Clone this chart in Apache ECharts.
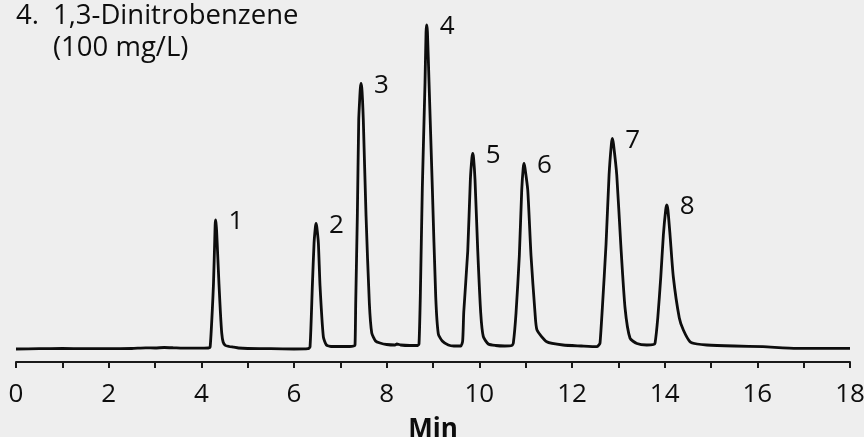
<!DOCTYPE html>
<html>
<head>
<meta charset="utf-8">
<title>1,3-Dinitrobenzene chromatogram</title>
<script src="https://cdn.jsdelivr.net/npm/echarts@6/dist/echarts.min.js"></script>
<style>
  html, body { margin: 0; padding: 0; background: #eeeeee; }
  #chart { width: 864px; height: 437px; }
</style>
</head>
<body>
<div id="chart"></div>
<script>
// trace: retention time (min) and detector signal
const traceTime = [
  0, 0.5, 1.0, 1.5, 2.0, 2.5, 2.8, 3.0, 3.2, 3.4, 3.6, 3.9, 4.15,
  4.19, 4.237, 4.262, 4.29, 4.298, 4.306, 4.316, 4.33, 4.355, 4.381, 4.41, 4.44, 4.47, 4.52, 4.6, 4.7, 4.8, 5.0, 5.5, 6.0, 6.3,
  6.346, 6.396, 6.433, 6.462, 6.476, 6.492, 6.526, 6.562, 6.634, 6.70, 6.80, 7.0, 7.2, 7.29,
  7.317, 7.332, 7.367, 7.397, 7.418, 7.432, 7.447, 7.463, 7.478, 7.496, 7.555, 7.626, 7.678, 7.76, 7.857, 8.0, 8.18, 8.22, 8.3, 8.5, 8.67,
  8.698, 8.726, 8.770, 8.828, 8.850, 8.864, 8.880, 8.914, 8.985, 9.059, 9.115, 9.2, 9.331, 9.45, 9.60,
  9.64, 9.664, 9.750, 9.806, 9.840, 9.858, 9.876, 9.907, 9.966, 10.030, 10.086, 10.194, 10.35, 10.55, 10.70,
  10.734, 10.792, 10.863, 10.915, 10.947, 10.965, 10.985, 11.045, 11.116, 11.202, 11.245, 11.455, 11.806, 12.2, 12.534, 12.58,
  12.605, 12.655, 12.735, 12.800, 12.850, 12.871, 12.895, 12.966, 13.052, 13.145, 13.253, 13.40, 13.613, 13.76,
  13.793, 13.851, 13.916, 13.972, 14.022, 14.045, 14.070, 14.116, 14.187, 14.316, 14.403, 14.547, 14.7, 14.908, 15.5, 16.123, 16.85, 17.5, 18.0
];
const traceSignal = [
  0, 0.3, 0.5, 0.3, 0.3, 0.5, 1.2, 1.0, 1.5, 1.2, 0.8, 0.8, 1,
  2, 39, 65, 110, 124, 129, 126, 118, 92, 65, 38, 16, 7, 3.5, 2.5, 1.8, 1, 0.5, 0.3, 0, 0.3,
  2, 63, 106, 122, 125.7, 122, 106, 63, 12, 4, 2.5, 2.5, 2.5, 3,
  4, 46, 133, 229, 250, 261, 265.7, 261, 250, 229, 133, 46, 16, 8, 6, 4.5, 4, 5, 4, 3.5, 3.5,
  5, 52, 162, 267, 317, 324, 317, 267, 162, 52, 15, 8, 4, 3, 3,
  8, 37, 98, 169, 191, 195.7, 191, 169, 98, 36, 12.3, 5, 3.5, 3, 3.5,
  6, 36, 93, 159, 181, 185.7, 181, 159, 93, 36, 19, 7.3, 4, 3, 2.3, 4,
  6, 41, 105, 174, 205, 210.7, 205, 174, 105, 41, 10.7, 5.5, 4, 4.5,
  6, 31, 72, 114, 139, 144, 139, 114, 72, 31, 19, 7.3, 5, 4, 3, 2.3, 0.7, 0.7, 0.7
];

// peak numbers and their apex positions
const peakNames = ["1", "2", "3", "4", "5", "6", "7", "8"];
const peakTimes = [4.306, 6.476, 7.447, 8.864, 9.858, 10.965, 12.871, 14.045];
const peakHeights = [129, 125.7, 265.7, 324, 195.7, 185.7, 210.7, 144];

const titleNumber = "4.";
const titleLines = ["1,3-Dinitrobenzene", "(100 mg/L)"];

const FONT = "'Open Sans', 'Noto Sans', sans-serif";
const INK = "#0d0d0d";

let myChart = echarts.init(document.getElementById("chart"));

let trace = traceTime.map((t, i) => [t, traceSignal[i]]);
let peaks = peakTimes.map((t, i) => ({ value: [t, peakHeights[i]], name: peakNames[i] }));

myChart.setOption({
  backgroundColor: "#eeeeee",
  animation: false,
  graphic: [
    {
      type: "text",
      left: 16,
      top: 2,
      style: { text: titleNumber, font: "27.5px " + FONT, fill: INK }
    },
    {
      type: "text",
      left: 53,
      top: 2,
      style: { text: titleLines[0], font: "27.5px " + FONT, fill: INK }
    },
    {
      type: "text",
      left: 53,
      top: 34,
      style: { text: titleLines[1], font: "27.5px " + FONT, fill: INK }
    }
  ],
  grid: {
    left: 16,
    right: 14,
    top: 9,
    bottom: 75,
    containLabel: false,
    outerBoundsMode: "none"
  },
  xAxis: {
    type: "value",
    min: 0,
    max: 18,
    interval: 1,
    name: "Min",
    nameLocation: "middle",
    nameGap: 55,
    nameTextStyle: { fontFamily: FONT, fontSize: 26, fontWeight: "bold", color: INK },
    axisLine: { onZero: false, lineStyle: { color: "#1a1a1a", width: 2 } },
    axisTick: { show: true, length: 6, lineStyle: { color: "#1a1a1a", width: 2 } },
    axisLabel: {
      margin: 20,
      fontFamily: FONT,
      fontSize: 26,
      color: INK,
      formatter: v => (v % 2 === 0 ? String(v) : "")
    },
    splitLine: { show: false }
  },
  yAxis: {
    type: "value",
    min: -13,
    max: 340,
    show: false
  },
  series: [
    {
      name: "trace",
      type: "line",
      data: trace,
      showSymbol: false,
      smooth: 0.2,
      lineStyle: { color: INK, width: 2.8, join: "round" },
      z: 2
    },
    {
      name: "peaks",
      type: "scatter",
      data: peaks,
      symbolSize: 0,
      itemStyle: { opacity: 1 },
      label: {
        show: true,
        position: "right",
        distance: 13,
        offset: [0, 2],
        formatter: p => p.name,
        fontFamily: FONT,
        fontSize: 26,
        color: INK
      },
      z: 3
    }
  ]
});
</script>
</body>
</html>
